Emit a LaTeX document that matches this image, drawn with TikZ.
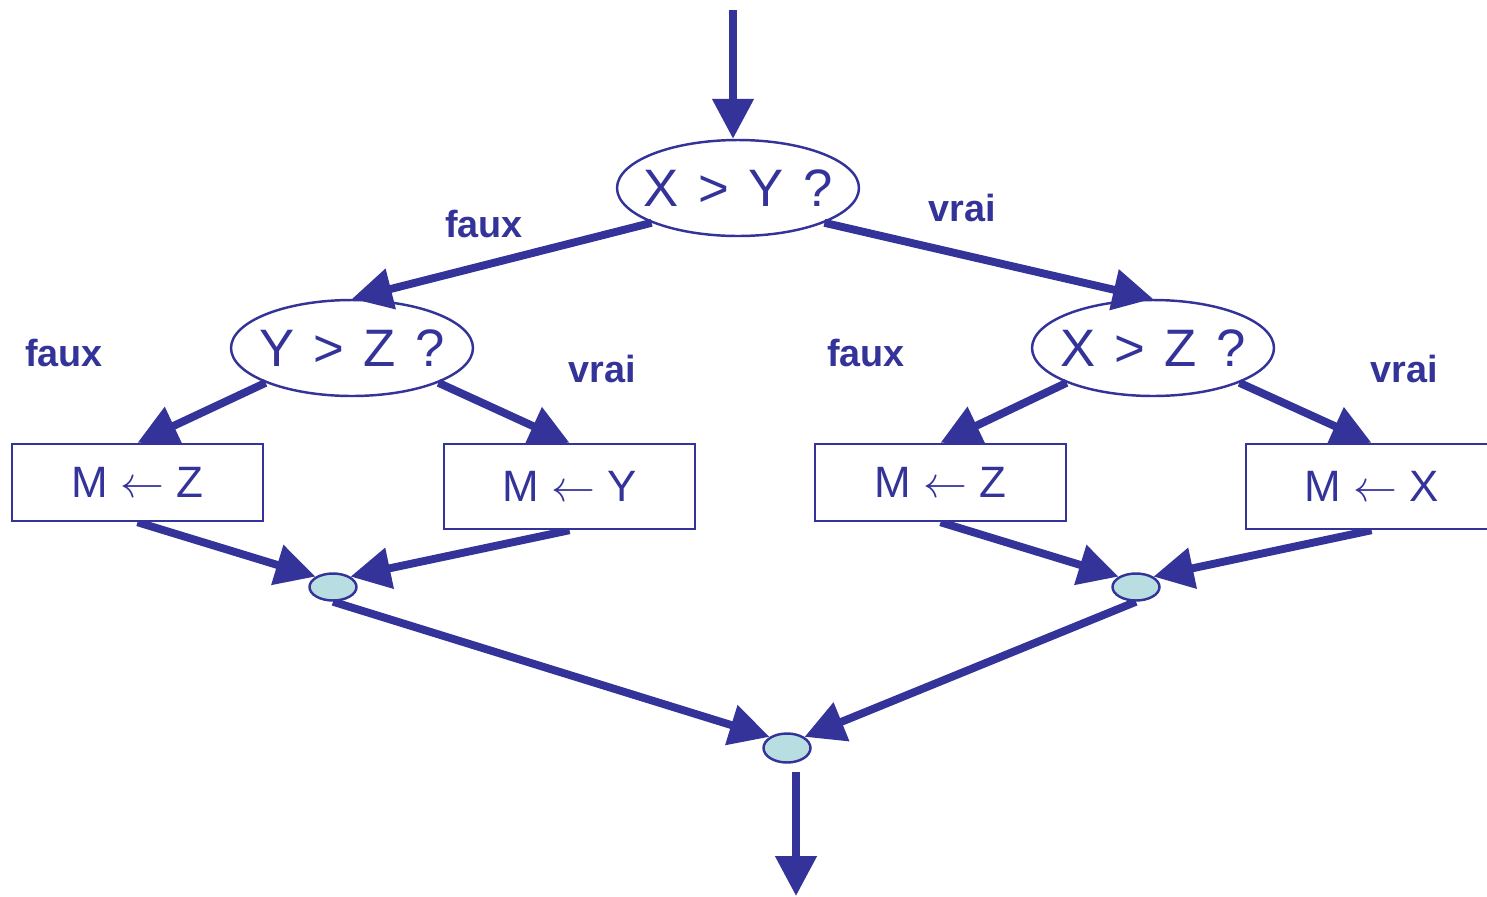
\documentclass[tikz,border=0pt]{standalone}
\usepackage{fix-cm}
\usepackage{fontspec}
\setmainfont{Liberation Sans}
\usetikzlibrary{shapes.geometric,arrows.meta,backgrounds}
\definecolor{flowblue}{RGB}{51,51,153}
\definecolor{mergefill}{RGB}{185,222,226}
\newcommand\condfont{\fontsize{30}{36}\selectfont\spaceskip=0.37em\relax}

\begin{document}
\begin{tikzpicture}[x=0.02cm, y=-0.02cm, line cap=butt,
    cond/.style={ellipse, draw=flowblue, line width=1.4pt, inner ysep=0pt,
      inner xsep=-0.4cm, minimum width=4.84cm, minimum height=1.92cm,
      text=flowblue, font=\condfont},
    assign/.style={rectangle, draw=flowblue, fill=white, line width=1.4pt,
      inner sep=0pt, minimum width=5.02cm, text=flowblue,
      font=\fontsize{25}{30}\selectfont},
    merge/.style={ellipse, draw=flowblue, fill=mergefill, line width=1.4pt,
      inner sep=0pt, minimum width=0.94cm, minimum height=0.54cm},
    flow/.style={draw=flowblue, line width=4.5pt,
      -{Triangle[length=0.8cm,width=0.8cm]}},
    branch/.style={text=flowblue, font=\bfseries\fontsize{21.5}{26}\selectfont}]

  \useasboundingbox (0,0) rectangle (1487,896);

  % Tests
  \node[cond] (q1) at (738,188) {X > Y ?};
  \node[cond] (q2) at (352,348) {Y > Z ?};
  \node[cond] (q3) at (1153,348) {X > Z ?};

  % Assignments
  \node[assign, minimum height=1.54cm] (m1) at (137.5,482.5) {M $\leftarrow$ Z};
  \node[assign, minimum height=1.70cm] (m2) at (569.5,486.5) {M $\leftarrow$ Y};
  \node[assign, minimum height=1.54cm] (m3) at (940.5,482.5) {M $\leftarrow$ Z};
  \node[assign, minimum height=1.70cm] (m4) at (1371.5,486.5) {M $\leftarrow$ X};

  % Merge points
  \node[merge] (j1) at (333,587) {};
  \node[merge] (j2) at (1136,587) {};
  \node[merge, minimum height=0.58cm] (j3) at (787,748) {};

  \coordinate (in) at (733,10);
  \coordinate (out) at (796,896);

  % Branch labels
  \node[branch] (f1) at (484,224) {faux};
  \node[branch] (v1) at (962,208) {vrai};
  \node[branch] (f2) at (64,353) {faux};
  \node[branch] (v2) at (602,369) {vrai};
  \node[branch] (f3) at (866,353) {faux};
  \node[branch] (v3) at (1404,369) {vrai};

  % Connectors (behind the boxes)
  \begin{scope}[on background layer]
    \draw[flow] (in) -- (in |- q1.north);
    \draw[flow] (q1.south west) -- (q2.north);
    \draw[flow] (q1.south east) -- (q3.north);
    \draw[flow] (q2.south west) -- (m1.north);
    \draw[flow] (q2.south east) -- (m2.north);
    \draw[flow] (q3.south west) -- (m3.north);
    \draw[flow] (q3.south east) -- (m4.north);
    \draw[flow] (m1.south) -- (j1.north west);
    \draw[flow] (m2.south) -- (j1.north east);
    \draw[flow] (m3.south) -- (j2.north west);
    \draw[flow] (m4.south) -- (j2.north east);
    \draw[flow] (j1.south) -- (j3.north west);
    \draw[flow] (j2.south) -- (j3.north east);
    \draw[flow] ([shift={(9,8)}]j3.south) -- (out);
  \end{scope}
\end{tikzpicture}
\end{document}
